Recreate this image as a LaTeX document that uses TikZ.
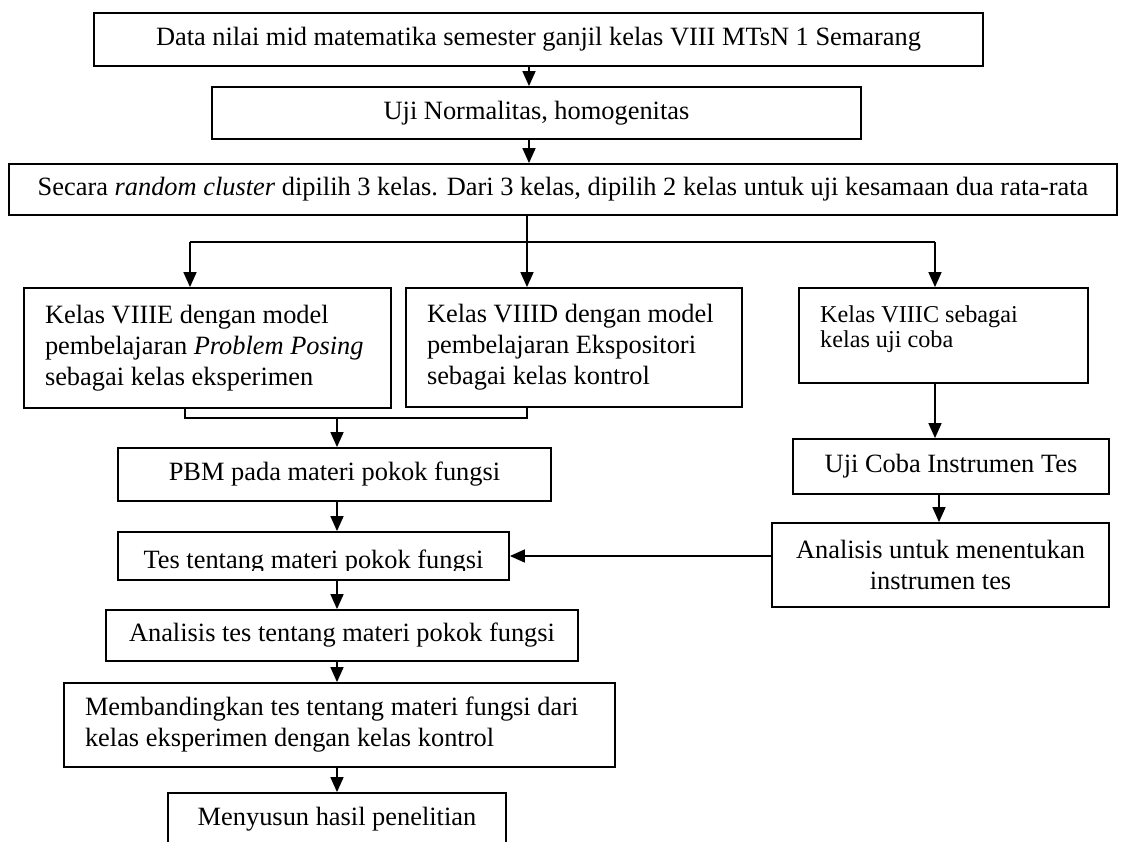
\documentclass[tikz,border=0pt]{standalone}
\usepackage{fontspec}
\setmainfont{Liberation Serif}
\usetikzlibrary{arrows.meta}
\tikzset{
  box/.style={draw, line width=1.8pt, rectangle, inner sep=0pt, align=center,
    font=\fontsize{26.4}{31}\selectfont},
  lbox/.style={box, align=flush left, inner xsep=21pt},
  arr/.style={line width=1.6pt, -{Triangle[length=15pt,width=13pt]}},
  ln/.style={line width=1.6pt},
  txt/.style={inner sep=0pt, font=\fontsize{26.4}{31}\selectfont},
}
\begin{document}
\begin{tikzpicture}[x=1pt,y=-1pt]
\fill[white] (0,0) rectangle (1122,842);
\clip (0,0) rectangle (1122,842);
% boxes
\node[box, minimum width=889, minimum height=53] (b1) at (538.5,39.5)
  {Data nilai mid matematika semester ganjil kelas VIII MTsN 1 Semarang};
\node[box, minimum width=649, minimum height=52] (b2) at (536.5,113)
  {Uji Normalitas, homogenitas};
\node[box, minimum width=1108, minimum height=51] (b3) at (563,189.5)
  {Secara \textit{random cluster} dipilih 3 kelas. Dari 3 kelas, dipilih 2 kelas untuk uji kesamaan dua rata-rata};
\node[lbox, text width=325, minimum height=120] (ve) at (207.5,348)
  {Kelas VIIIE dengan model\\ pembelajaran \textit{Problem Posing}\\ sebagai kelas eksperimen};
\node[lbox, text width=294, minimum height=119] (vd) at (574,347.5)
  {Kelas VIIID dengan model\\ pembelajaran Ekspositori\\ sebagai kelas kontrol};
\node[box, minimum width=289, minimum height=95] (vc) at (943.5,335.5) {};
\node[txt, anchor=north west, align=flush left, font=\fontsize{24.2}{25.5}\selectfont] (vctxt) at (820,305.5)
  {Kelas VIIIC sebagai\\ kelas uji coba};
\node[box, minimum width=433, minimum height=53] (pbm) at (334.5,474.5)
  {PBM pada materi pokok fungsi};
\node[box, minimum width=391, minimum height=48] (tes) at (313.5,556) {};
\begin{scope}
  \clip (118,532) rectangle (509,570);
  \node[txt, anchor=base] (testxt) at (313.5,568) {Tes tentang materi pokok fungsi};
\end{scope}
\node[box, minimum width=472, minimum height=51] (at) at (342,635.5)
  {Analisis tes tentang materi pokok fungsi};
\node[lbox, text width=509, minimum height=84] (mb) at (339.5,725)
  {Membandingkan tes tentang materi fungsi dari\\ kelas eksperimen dengan kelas kontrol};
\node[box, minimum width=338, minimum height=53] (mh) at (337,819.5)
  {Menyusun hasil penelitian};
\node[box, minimum width=316, minimum height=55] (uc) at (951,466.5)
  {Uji Coba Instrumen Tes};
\node[box, minimum width=337, minimum height=84] (au) at (940.5,565)
  {Analisis untuk menentukan\\ instrumen tes};
% helper coordinates
\coordinate (mx) at (529,0);
\coordinate (jx) at (527,0);
\coordinate (hl) at (190,242);
\coordinate (hr) at (935,242);
\coordinate (bl) at (185,418);
\coordinate (br) at (527,418);
\coordinate (bm) at (337,418);
\coordinate (cx) at (337,0);
\coordinate (rx) at (939,0);
% connectors
\draw[arr] (b1.south -| mx) -- (b2.north -| mx);
\draw[arr] (b2.south -| mx) -- (b3.north -| mx);
\draw[arr] (b3.south -| jx) -- (vd.north -| jx);
\draw[ln] (hl) -- (hr);
\draw[arr] (hl) -- (ve.north -| hl);
\draw[arr] (hr) -- (vc.north -| hr);
\draw[ln] (ve.south -| bl) -- (bl) -- (br) -- (vd.south -| br);
\draw[arr] (bm) -- (pbm.north -| bm);
\draw[arr] (pbm.south -| cx) -- (tes.north -| cx);
\draw[arr] (tes.south -| cx) -- (at.north -| cx);
\draw[arr] (at.south -| cx) -- (mb.north -| cx);
\draw[arr] (mb.south -| cx) -- (mh.north -| cx);
\draw[arr] (vc.south -| hr) -- (uc.north -| hr);
\draw[arr] (uc.south -| rx) -- (au.north -| rx);
\draw[arr] (au.west |- tes.east) -- (tes.east);
\end{tikzpicture}
\end{document}
